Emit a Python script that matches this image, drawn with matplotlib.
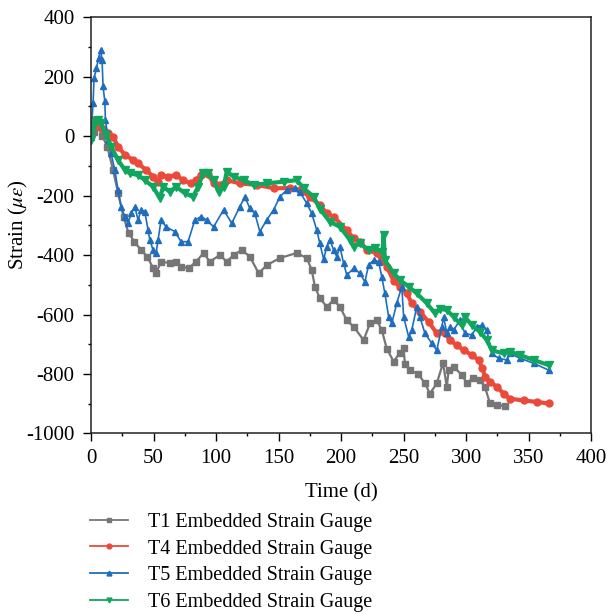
import matplotlib
matplotlib.use('Agg')
import matplotlib.pyplot as plt
from matplotlib.ticker import MultipleLocator

plt.rcParams['font.family'] = 'Liberation Serif'
plt.rcParams['mathtext.fontset'] = 'stix'
plt.rcParams['axes.unicode_minus'] = False

# values (day, strain in micro-strain)
t1_day = [2, 5.6, 9, 13, 17.6, 21.6, 26, 30, 34.7, 40, 45, 49.6, 52, 56, 63, 68, 72, 78, 84, 90, 95,
          103, 108.5, 114, 120.5, 127, 134, 140.5, 151, 164.5, 172.5, 176.5, 179, 183, 188.5, 194,
          199, 204.5, 210, 218, 223, 228.5, 232.5, 236.5, 242, 247, 250, 251, 255, 261.5, 267, 271,
          276.5, 281.5, 284.5, 286, 290, 296.5, 300.5, 305.5, 311, 315, 319, 324.5, 331]
t1_val = [15, 32, 0, -35, -114, -191, -271, -326, -355, -383, -405, -444, -461, -422, -427, -422,
          -439, -444, -422, -393, -422, -400, -422, -400, -383, -405, -461, -434, -410, -393, -410,
          -450, -506, -545, -574, -551, -574, -619, -641, -686, -630, -619, -652, -715, -758, -728,
          -714, -766, -787, -800, -831, -866, -831, -763, -843, -787, -776, -803, -831, -814, -820,
          -843, -899, -904, -908]

t4_day = [1.6, 5.6, 9.6, 13.6, 17.6, 21.6, 27, 33.6, 37.6, 44, 49.6, 53.6, 56, 61.6, 68, 73.6, 80,
          84, 88, 93.6, 98, 103, 108.5, 119, 132.5, 146, 159, 167, 175, 183, 188.5, 194, 204.5, 210,
          215, 220.5, 228.5, 232.5, 236.5, 242, 247, 252.5, 256.5, 263, 270, 276.5, 283, 287,
          292.5, 298, 304.5, 310, 313, 315, 319, 324.5, 330, 335, 346, 356.5, 366]
t4_val = [54, 37, 25, 10, -2, -35, -63, -80, -91, -114, -136, -153, -131, -136, -131, -148, -159,
          -148, -130, -128, -159, -164, -148, -159, -164, -175, -175, -181, -204, -232, -260, -271,
          -316, -344, -355, -383, -394, -417, -439, -487, -506, -529, -562, -590, -625, -663, -663,
          -686, -703, -720, -736, -753, -781, -809, -826, -843, -866, -883, -889, -894, -899]

t5_day = [0, 1.6, 2.4, 4.3, 6, 7.8, 8.8, 9.6, 11, 11.5, 13.6, 16, 19, 21.6, 24, 27, 29.6, 32, 35,
          37.6, 40, 43, 45.6, 47, 49.6, 52, 53.6, 56, 60, 67, 72, 77.6, 83, 88, 92.5, 98, 106,
          112.5, 119, 123, 127, 131, 135, 140.5, 146, 151, 156.5, 163, 167, 172.5, 176.5, 180.5,
          183, 186, 188.5, 191, 194, 196.5, 199, 202, 204.5, 210, 215, 219, 222, 226, 230, 232.5,
          235, 238, 240.5, 244.5, 248.5, 250, 254, 256.5, 260.5, 263, 267, 272.5, 276.5, 280.5,
          282, 284.5, 287, 290, 295, 299, 304.5, 308.5, 312.5, 316.5, 320.5, 326, 332.5, 335,
          343, 354, 366]
t5_val = [-2, 110, 195, 228, 262, 290, 256, 167, 117, 55, -13, -58, -114, -181, -237, -271, -293,
          -260, -237, -282, -248, -254, -316, -349, -383, -394, -349, -282, -305, -321, -355, -355,
          -282, -271, -282, -305, -248, -293, -237, -204, -243, -260, -321, -282, -248, -204, -181,
          -175, -187, -226, -260, -316, -361, -414, -372, -349, -383, -405, -372, -428, -467, -445,
          -461, -490, -433, -417, -422, -473, -529, -608, -630, -562, -506, -608, -675, -652, -574,
          -608, -663, -697, -720, -641, -608, -663, -641, -652, -619, -663, -669, -641, -636, -652,
          -731, -747, -753, -731, -747, -764, -787]

t6_day = [0, 3, 5.6, 8, 12, 16, 21.6, 27, 31, 37.6, 43, 49.6, 55, 57.6, 63, 68, 75, 81.6, 85.6,
          89.6, 93.6, 98, 102, 106, 108.5, 114, 122, 130, 140.5, 154, 164.5, 170, 178, 183, 191,
          199, 207, 210, 215, 222, 227, 233, 234, 235, 242, 247, 254, 260.5, 268.5, 275, 279,
          284.5, 290, 296.5, 299, 304.5, 311, 316.5, 320.5, 330, 335, 343, 354, 366]
t6_val = [-13, 43, 54, 43, 4, -35, -80, -114, -125, -131, -148, -170, -209, -170, -187, -170, -192,
          -204, -170, -125, -125, -148, -187, -170, -120, -136, -148, -164, -159, -153, -148, -175,
          -204, -245, -288, -305, -349, -372, -361, -383, -377, -390, -332, -417, -461, -484, -506,
          -529, -562, -596, -580, -585, -608, -636, -608, -636, -658, -686, -720, -731, -725, -736,
          -753, -770]

labels = ['T1 Embedded Strain Gauge', 'T4 Embedded Strain Gauge',
          'T5 Embedded Strain Gauge', 'T6 Embedded Strain Gauge']
colors = ['#767676', '#EB4A3A', '#1E6DBF', '#10A65E']
markers = ['s', 'o', '^', 'v']
msizes = [4, 5, 5, 5.5]
lwidths = [1.6, 3.0, 1.2, 3.0]


def main():
  fig = plt.figure(figsize=(6.07, 6.14), dpi=100)
  ax = fig.add_axes([0.15, 0.294, 0.824, 0.678])

  series = [(t1_day, t1_val), (t4_day, t4_val), (t5_day, t5_val), (t6_day, t6_val)]
  handles = []
  for (d, v), lab, c, m, ms, lw in zip(series, labels, colors, markers, msizes, lwidths):
    ax.plot(d, v, color=c, marker=m, markersize=ms, linewidth=lw)
    h, = ax.plot([], [], color=c, marker=m, markersize=3.5, linewidth=1.3, label=lab)
    handles.append(h)

  ax.set_xlim(0, 400)
  ax.set_ylim(-1000, 400)
  ax.xaxis.set_major_locator(MultipleLocator(50))
  ax.xaxis.set_minor_locator(MultipleLocator(25))
  ax.yaxis.set_major_locator(MultipleLocator(200))
  ax.yaxis.set_minor_locator(MultipleLocator(100))
  ax.tick_params(which='both', direction='out', labelsize=15, width=1)
  ax.tick_params(which='major', length=6)
  ax.tick_params(axis='y', which='major', pad=6)
  ax.tick_params(axis='x', which='major', pad=5)
  ax.tick_params(which='minor', length=2.5)
  for s in ax.spines.values():
    s.set_linewidth(1.1)
    s.set_color('#222222')

  ax.set_xlabel('Time (d)', fontsize=15, labelpad=11)
  ax.set_ylabel(r'Strain ($\mu\varepsilon$)', fontsize=15, labelpad=-3)

  fig.legend(handles, labels, loc='upper left', bbox_to_anchor=(0.148, 0.165),
             frameon=False, fontsize=14.5, handlelength=1.9, labelspacing=0.38,
             handletextpad=1.0, borderaxespad=0, borderpad=0)

  fig.savefig('out.png', dpi=100)

if __name__ == '__main__':
  main()
